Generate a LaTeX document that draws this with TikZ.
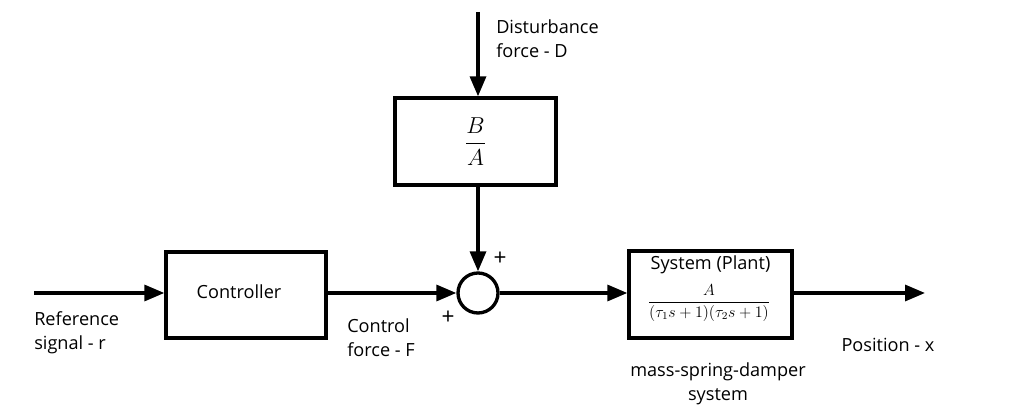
\documentclass[tikz,border=0pt]{standalone}
\usepackage{amsmath}
\usepackage{fontspec}
\setmainfont{Open Sans}
\usetikzlibrary{arrows.meta}
\begin{document}
\begin{tikzpicture}[x=0.75pt,y=-0.75pt,
  blk/.style={draw,line width=2.5pt,inner sep=0pt},
  sig/.style={line width=2.5pt,-{Triangle[length=15pt,width=12pt]}},
  lbl/.style={font=\fontsize{13.6}{18}\selectfont,inner sep=0pt,align=left},
  pls/.style={font=\fontsize{17}{18}\selectfont,inner sep=0pt},
  sumn/.style={draw,circle,line width=2.5pt,minimum size=30pt,inner sep=0pt}]
\useasboundingbox (0,0) rectangle (1024,409);
% blocks
\node[blk,minimum width=120.75pt,minimum height=65.25pt] (ba) at (475.5,141.5) {};
\node (batxt) at (ba.center) {\fontsize{19}{22}\selectfont$\dfrac{B}{A}$};
\node[blk,minimum width=120pt,minimum height=64.5pt] (ctrl) at (246,295) {};
\node[lbl] (ctrltxt) at (239,292) {Controller};
\node[sumn] (sum) at (478,293) {};
\node[blk,minimum width=122.25pt,minimum height=65.25pt] (plant) at (710.5,294.5) {};
\node[lbl] (planttxt) at (710.5,265) {System (Plant)};
\node (pfrac) at (709,303) {\fontsize{11.5}{13}\selectfont$\dfrac{A}{(\tau_1 s+1)(\tau_2 s+1)}$};
% coordinates
\coordinate (dtop) at (478,12);
\coordinate (rin) at (34,293);
\coordinate (xout) at (925,293);
% connectors
\draw[sig] (dtop) -- (ba.north -| dtop);
\draw[sig] (ba.south -| sum) -- (sum.north);
\draw[sig] (rin) -- (ctrl.west |- rin);
\draw[sig] (ctrl.east |- sum) -- (sum.west);
\draw[sig] (sum.east) -- (plant.west |- sum);
\draw[sig] (plant.east |- sum) -- (xout);
% labels
\node[lbl,anchor=north west] (dl) at (496,19) {Disturbance\\force - D};
\node[lbl,anchor=north west] (rl) at (34,311) {Reference\\signal - r};
\node[lbl,anchor=north west] (cl) at (347,318) {Control\\force - F};
\node[lbl] (pl) at (888,345) {Position - x};
\node[lbl,align=center] (ml) at (718,384) {mass-spring-damper\\system};
\node[pls] (p1) at (500,259) {+};
\node[pls] (p2) at (448,318) {+};
\end{tikzpicture}
\end{document}
